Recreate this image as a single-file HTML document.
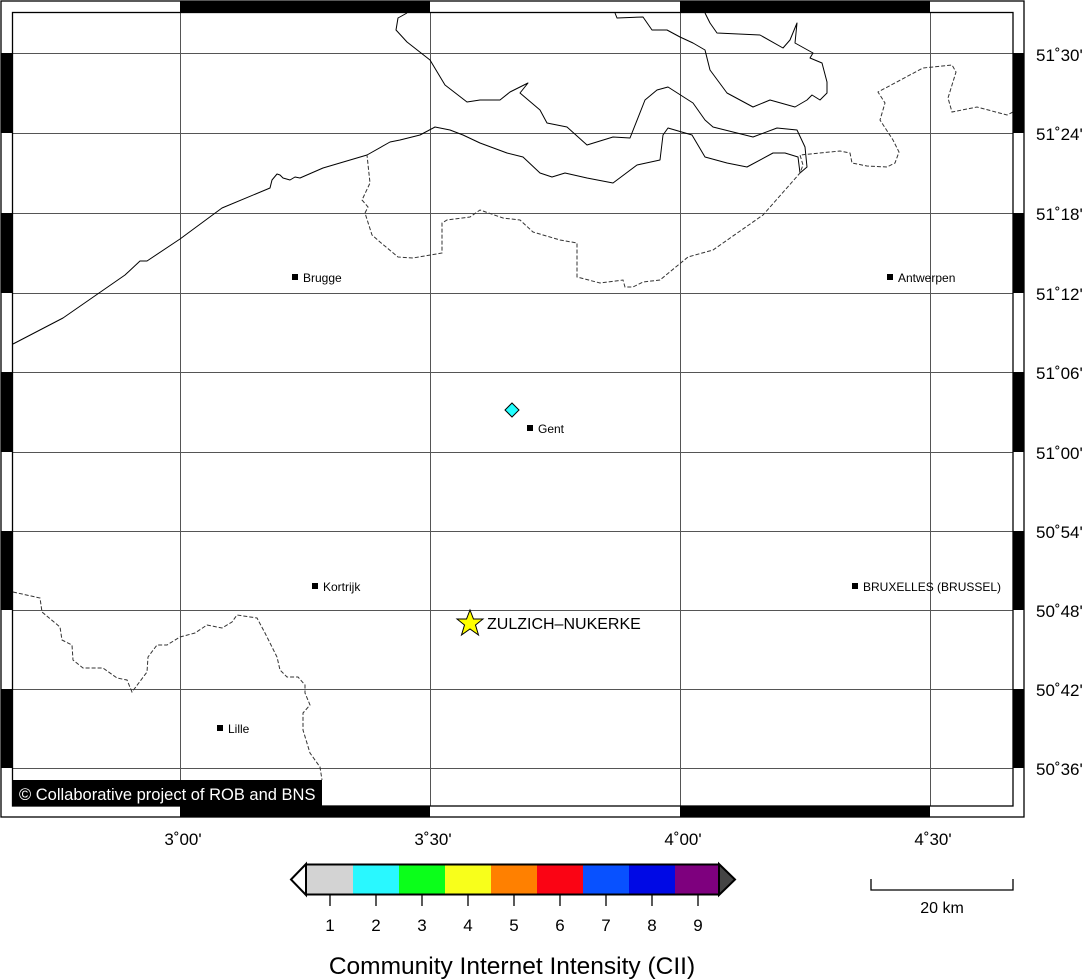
<!DOCTYPE html>
<html><head><meta charset="utf-8"><style>
body{margin:0;background:#fff;}
svg{display:block;font-family:"Liberation Sans",sans-serif;}
</style></head><body>
<svg width="1088" height="979" viewBox="0 0 1088 979">
<rect width="1088" height="979" fill="#fff"/>
<g stroke="#555" stroke-width="1" fill="none">
<path d="M180.5 12V806M430.5 12V806M680.5 12V806M930.5 12V806"/>
<path d="M12 53.5H1013M12 133.5H1013M12 213.5H1013M12 293.5H1013M12 372.5H1013M12 452.5H1013M12 531.5H1013M12 610.5H1013M12 689.5H1013M12 768.5H1013"/>
</g>
<g stroke="#000" stroke-width="1" fill="none" stroke-linejoin="round">
<polyline points="407,13 398,18 396,30 407,42 430,60 445,85 467,102 480,100 500,100 510,92 520,87 528,83 520,93 540,110 547,123 567,127 587,145 613,137 630,138 645,100 657,90 668,87 693,103 705,120 713,127 753,137 777,128 797,130 805,147 807,167 800,173 798,157 785,153 773,153 747,167 727,163 705,157 692,135 668,128 663,135 660,160 637,165 613,183 587,178 565,173 552,177 540,173 523,157 507,153 480,143 463,135 450,130 435,127 420,135 400,140 390,142 367,155 323,168 300,178 295,177 290,180 283,178 280,175 277,174 272,180 270,188 222,208 180,239 147,261 140,261 125,275 63,318 13,344"/>
<polyline points="615,13 617,18 643,17 652,30 667,30 680,37 693,43 705,50 710,70 727,93 753,107 770,100 795,107 807,100 812,95 820,100 827,93 827,82 822,63 810,58 813,53 795,43 797,23 790,40 783,48 760,35 717,33 710,23 705,13"/>
</g>
<g stroke="#333" stroke-width="1" fill="none" stroke-dasharray="4,2">
<polyline points="1013,112 1007,115 977,107 952,112 948,98 956,72 952,65 923,68 878,92 885,103 880,120 893,140 899,152 895,163 887,167 867,166 852,163 850,153 840,151 800,155 803,165 800,173 763,215 713,250 688,257 660,280 643,282 633,287 625,287 623,280 600,283 577,277 577,243 560,240 533,232 520,220 503,218 480,210 470,217 447,220 442,223 442,253 413,258 398,257 380,242 372,235 365,213 368,207 362,200 370,183 367,155"/>
<polyline points="13,592 40,598 42,612 60,627 62,640 72,645 73,660 83,668 103,668 117,678 127,680 132,692 147,672 148,657 157,645 167,645 180,637 195,633 207,625 222,628 232,622 237,615 257,618 265,633 277,657 280,670 287,677 298,677 305,685 305,693 310,705 303,713 303,730 310,753 320,767 322,780"/>
</g>
<rect x="13" y="780" width="309" height="26" fill="#000"/>
<text x="19" y="800" fill="#fff" font-size="16.5">© Collaborative project of ROB and BNS</text>
<g fill="#000">
<rect x="180" y="1" width="250" height="11"/><rect x="680" y="1" width="250" height="11"/>
<rect x="180" y="806" width="250" height="11"/><rect x="680" y="806" width="250" height="11"/>
<rect x="1" y="53" width="11" height="80"/><rect x="1" y="213" width="11" height="80"/><rect x="1" y="372" width="11" height="80"/><rect x="1" y="531" width="11" height="79"/><rect x="1" y="689" width="11" height="79"/>
<rect x="1013" y="53" width="11" height="80"/><rect x="1013" y="213" width="11" height="80"/><rect x="1013" y="372" width="11" height="80"/><rect x="1013" y="531" width="11" height="79"/><rect x="1013" y="689" width="11" height="79"/>
</g>
<rect x="1" y="1" width="1023" height="816" fill="none" stroke="#000" stroke-width="1.3"/>
<rect x="12.5" y="12.5" width="1000.5" height="793.5" fill="none" stroke="#000" stroke-width="1.3"/>
<g font-size="12" fill="#000">
<rect x="292" y="274" width="6" height="6"/><text x="303" y="282">Brugge</text>
<rect x="887" y="274" width="6" height="6"/><text x="898" y="282">Antwerpen</text>
<rect x="527" y="425" width="6" height="6"/><text x="538" y="433">Gent</text>
<rect x="312" y="583" width="6" height="6"/><text x="323" y="591">Kortrijk</text>
<rect x="852" y="583" width="6" height="6"/><text x="863" y="591">BRUXELLES (BRUSSEL)</text>
<rect x="217" y="725" width="6" height="6"/><text x="228" y="733">Lille</text>
</g>
<polygon points="512,403 519,410 512,417 505,410" fill="#2ff" stroke="#000" stroke-width="1"/>
<polygon points="470,610 473.5,619 483,619 475.5,625 478.5,635 470,629 461.5,635 464.5,625 457,619 466.5,619" fill="#ff0" stroke="#000" stroke-width="1"/>
<text x="487" y="629" font-size="16">ZULZICH–NUKERKE</text>
<g font-size="17" fill="#000">
<text x="1036" y="61">51˚30'</text><text x="1036" y="140">51˚24'</text><text x="1036" y="220">51˚18'</text><text x="1036" y="300">51˚12'</text><text x="1036" y="379">51˚06'</text><text x="1036" y="459">51˚00'</text><text x="1036" y="538">50˚54'</text><text x="1036" y="617">50˚48'</text><text x="1036" y="696">50˚42'</text><text x="1036" y="775">50˚36'</text>
<g text-anchor="middle"><text x="183" y="845">3˚00'</text><text x="433" y="845">3˚30'</text><text x="683" y="845">4˚00'</text><text x="933" y="845">4˚30'</text></g>
</g>
<g>
<rect x="307" y="865" width="46" height="29" fill="#d3d3d3"/>
<rect x="353" y="865" width="46" height="29" fill="#29f8ff"/>
<rect x="399" y="865" width="46" height="29" fill="#0bff1a"/>
<rect x="445" y="865" width="46" height="29" fill="#f8ff1b"/>
<rect x="491" y="865" width="46" height="29" fill="#ff8000"/>
<rect x="537" y="865" width="46" height="29" fill="#fa0414"/>
<rect x="583" y="865" width="46" height="29" fill="#0851ff"/>
<rect x="629" y="865" width="46" height="29" fill="#0009e5"/>
<rect x="675" y="865" width="44" height="29" fill="#7e007e"/>
<polygon points="306,864 306,895 291,879.5" fill="#fff" stroke="#000" stroke-width="2"/>
<polygon points="719,864 719,895 735,879.5" fill="#444" stroke="#000" stroke-width="2"/>
<rect x="306" y="864.5" width="413" height="30" fill="none" stroke="#000" stroke-width="2"/>
<g stroke="#000" stroke-width="1.3"><path d="M330 895V906M376 895V906M422 895V906M468 895V906M514 895V906M560 895V906M606 895V906M652 895V906M698 895V906"/></g>
<g font-size="17" text-anchor="middle"><text x="330" y="931">1</text><text x="376" y="931">2</text><text x="422" y="931">3</text><text x="468" y="931">4</text><text x="514" y="931">5</text><text x="560" y="931">6</text><text x="606" y="931">7</text><text x="652" y="931">8</text><text x="698" y="931">9</text></g>
<text x="512" y="974" font-size="24.5" text-anchor="middle">Community Internet Intensity (CII)</text>
</g>
<path d="M871 879V890H1013V879" fill="none" stroke="#000" stroke-width="1.3"/>
<text x="942" y="913" font-size="16" text-anchor="middle">20 km</text>
</svg>
</body></html>
